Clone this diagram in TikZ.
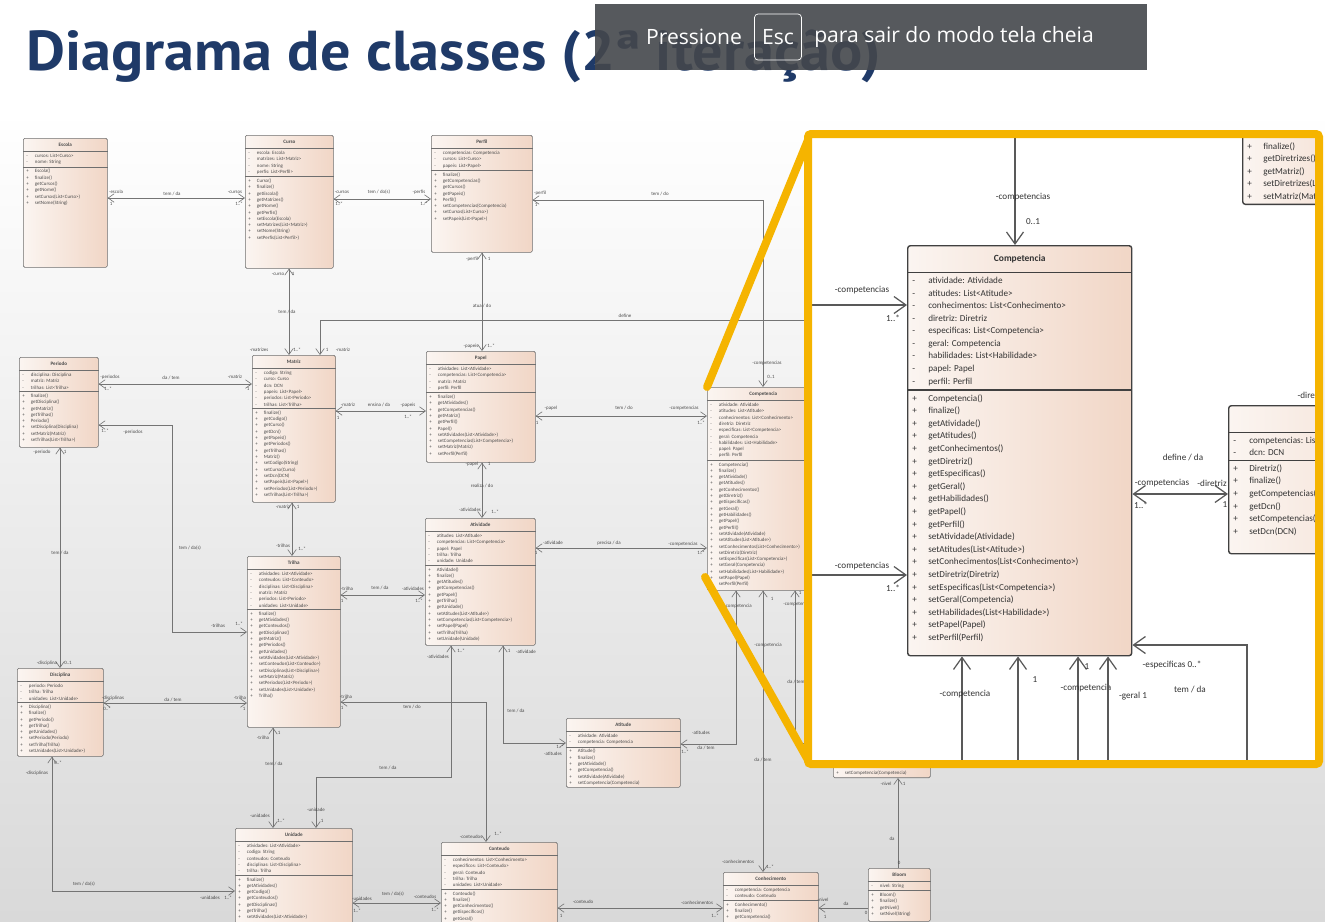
\documentclass[tikz,border=0pt]{standalone}
\usepackage{fontspec}
\setmainfont{Carlito}
\newfontfamily\titlefont{PT Sans}
\newfontfamily\barfont{Open Sans}
\usetikzlibrary{arrows.meta}
\definecolor{TitleNavy}{HTML}{1F3A68}
\definecolor{BarGray}{HTML}{44474C}
\definecolor{ZoomGold}{HTML}{F5B400}
\definecolor{BoxLine}{HTML}{6E6E6E}
\definecolor{BoxLight}{HTML}{FBF5F1}
\definecolor{BoxPeach}{HTML}{F1D6C6}
\definecolor{LineGray}{HTML}{747474}
\definecolor{TextDark}{HTML}{4A4A4A}
\definecolor{BgGray}{HTML}{D9D9D9}

\newcommand{\umlm}{\makebox[1.75em][l]{-}}
\newcommand{\umlp}{\makebox[1.75em][l]{+}}
% class box: name, north west corner, width, height (px), title, attributes, methods
\newcommand{\umlclass}[7]{%
  \node[umlbox, anchor=north west, minimum width=#3*0.02cm, minimum height=#4*0.02cm] (#1) at (#2) {};
  \node[umltitle, anchor=north, minimum width=#3*0.02cm] (#1-t) at (#1.north) {#5};
  \node[umltext, anchor=north west] (#1-a) at (#1-t.south -| #1.west) {#6};
  \node[umltext, anchor=north west] (#1-m) at (#1-a.south -| #1.west) {#7};
  \draw[umlsep] (#1-t.south -| #1.west) -- (#1-t.south -| #1.east);
  \draw[umlsep] (#1-m.north -| #1.west) -- (#1-m.north -| #1.east);
}
\newcommand{\compattrs}{\umlm atividade: Atividade\\ \umlm atitudes: List<Atitude>\\
  \umlm conhecimentos: List<Conhecimento>\\ \umlm diretriz: Diretriz\\
  \umlm especificas: List<Competencia>\\ \umlm geral: Competencia\\
  \umlm habilidades: List<Habilidade>\\ \umlm papel: Papel\\ \umlm perfil: Perfil}
\newcommand{\compmeths}{\umlp Competencia()\\ \umlp finalize()\\ \umlp getAtividade()\\
  \umlp getAtitudes()\\ \umlp getConhecimentos()\\ \umlp getDiretriz()\\
  \umlp getEspecificas()\\ \umlp getGeral()\\ \umlp getHabilidades()\\ \umlp getPapel()\\
  \umlp getPerfil()\\ \umlp setAtividade(Atividade)\\ \umlp setAtitudes(List<Atitude>)\\
  \umlp setConhecimentos(List<Conhecimento>)\\ \umlp setDiretriz(Diretriz)\\
  \umlp setEspecificas(List<Competencia>)\\ \umlp setGeral(Competencia)\\
  \umlp setHabilidades(List<Habilidade>)\\ \umlp setPapel(Papel)\\ \umlp setPerfil(Perfil)}

\begin{document}
\begin{tikzpicture}[x=0.02cm, y=-0.02cm,
    umlbox/.style={draw=BoxLine, line width=0.35pt, rounded corners=0.8pt,
        left color=BoxLight, right color=BoxPeach, inner sep=0pt},
    umltitle/.style={font=\fontsize{2.9}{3.6}\selectfont\bfseries, text=TextDark,
        minimum height=0.26cm, inner sep=0pt},
    umltext/.style={font=\fontsize{2.8}{3.59}\selectfont, text=TextDark, align=left,
        inner xsep=0.06cm, inner ysep=0.04cm},
    umlsep/.style={draw=BoxLine, line width=0.35pt},
    assoc/.style={draw=LineGray, line width=0.35pt, <->,
        >={Straight Barb[length=0.12cm, width=0.17cm]}},
    nav/.style={draw=LineGray, line width=0.35pt, ->,
        >={Straight Barb[length=0.12cm, width=0.17cm]}},
    lbl/.style={font=\fontsize{2.8}{3.2}\selectfont, text=TextDark, inner sep=0pt},
    bigassoc/.style={draw=black!65, line width=0.7pt, <->,
        >={Straight Barb[length=0.24cm, width=0.34cm]}},
    biglbl/.style={font=\fontsize{5.2}{6}\selectfont, text=black!80, inner sep=0pt},
    zoomline/.style={draw=ZoomGold, line width=0.16cm, line cap=round, rounded corners=0.06cm},
]
\useasboundingbox (0,0) rectangle (1325,921);
\clip (0,0) rectangle (1325,921);

% === Background and title ===
\fill[white] (0,0) rectangle (1325,921);
\shade[top color=white, bottom color=BgGray] (0,110) rectangle (1325,921);
\node[font=\titlefont\bfseries\fontsize{32}{36}\selectfont, text=TitleNavy, anchor=west,
    inner sep=0pt] (title) at (26,56) {\scalebox{1.07}[1]{Diagrama de classes (2ª iteração)}};

% =============================================
% CLASSES
% =============================================
\umlclass{escola}{23,138}{84}{129}{Escola}
  {\umlm cursos: List<Curso>\\ \umlm nome: String}
  {\umlp Escola()\\ \umlp finalize()\\ \umlp getCursos()\\ \umlp getNome()\\
   \umlp setCursos(List<Curso>)\\ \umlp setNome(String)}

\umlclass{curso}{245,135}{88}{133}{Curso}
  {\umlm escola: Escola\\ \umlm matrizes: List<Matriz>\\ \umlm nome: String\\ \umlm perfis: List<Perfil>}
  {\umlp Curso()\\ \umlp finalize()\\ \umlp getEscola()\\ \umlp getMatrizes()\\ \umlp getNome()\\
   \umlp getPerfis()\\ \umlp setEscola(Escola)\\ \umlp setMatrizes(List<Matriz>)\\
   \umlp setNome(String)\\ \umlp setPerfis(List<Perfil>)}

\umlclass{perfil}{431,135}{101}{117}{Perfil}
  {\umlm competencias: Competencia\\ \umlm cursos: List<Curso>\\ \umlm papeis: List<Papel>}
  {\umlp finalize()\\ \umlp getCompetencias()\\ \umlp getCursos()\\ \umlp getPapeis()\\
   \umlp Perfil()\\ \umlp setCompetencias(Competencia)\\ \umlp setCursos(List<Curso>)\\
   \umlp setPapeis(List<Papel>)}

\umlclass{periodo}{19,357}{79}{90}{Periodo}
  {\umlm disciplina: Disciplina\\ \umlm matriz: Matriz\\ \umlm trilhas: List<Trilha>}
  {\umlp finalize()\\ \umlp getDisciplina()\\ \umlp getMatriz()\\ \umlp getTrilhas()\\
   \umlp Periodo()\\ \umlp setDisciplina(Disciplina)\\ \umlp setMatriz(Matriz)\\
   \umlp setTrilhas(List<Trilha>)}

\umlclass{matriz}{252,355}{83}{147}{Matriz}
  {\umlm codigo: String\\ \umlm curso: Curso\\ \umlm dcn: DCN\\ \umlm papeis: List<Papel>\\
   \umlm periodos: List<Periodo>\\ \umlm trilhas: List<Trilha>}
  {\umlp finalize()\\ \umlp getCodigo()\\ \umlp getCurso()\\ \umlp getDcn()\\ \umlp getPapeis()\\
   \umlp getPeriodos()\\ \umlp getTrilhas()\\ \umlp Matriz()\\ \umlp setCodigo(String)\\
   \umlp setCurso(Curso)\\ \umlp setDcn(DCN)\\ \umlp setPapeis(List<Papel>)\\
   \umlp setPeriodos(List<Periodo>)\\ \umlp setTrilhas(List<Trilha>)}

\umlclass{papel}{426,351}{109}{111}{Papel}
  {\umlm atividades: List<Atividade>\\ \umlm competencias: List<Competencia>\\
   \umlm matriz: Matriz\\ \umlm perfil: Perfil}
  {\umlp finalize()\\ \umlp getAtividades()\\ \umlp getCompetencias()\\ \umlp getMatriz()\\
   \umlp getPerfil()\\ \umlp Papel()\\ \umlp setAtividades(List<Atividade>)\\
   \umlp setCompetencias(List<Competencia>)\\ \umlp setMatriz(Matriz)\\ \umlp setPerfil(Perfil)}

\umlclass{comp}{707,387}{112}{203}{Competencia}{\compattrs}{\compmeths}

\umlclass{ativ}{425,518}{110}{127}{Atividade}
  {\umlm atitudes: List<Atitude>\\ \umlm competencias: List<Competencia>\\ \umlm papel: Papel\\
   \umlm trilha: Trilha\\ \umlm unidade: Unidade}
  {\umlp Atividade()\\ \umlp finalize()\\ \umlp getAtitudes()\\ \umlp getCompetencias()\\
   \umlp getPapel()\\ \umlp getTrilha()\\ \umlp getUnidade()\\ \umlp setAtitudes(List<Atitude>)\\
   \umlp setCompetencias(List<Competencia>)\\ \umlp setPapel(Papel)\\ \umlp setTrilha(Trilha)\\
   \umlp setUnidade(Unidade)}

\umlclass{trilha}{247,556}{93}{171}{Trilha}
  {\umlm atividades: List<Atividade>\\ \umlm conteudos: List<Conteudo>\\
   \umlm disciplinas: List<Disciplina>\\ \umlm matriz: Matriz\\ \umlm periodos: List<Periodo>\\
   \umlm unidades: List<Unidade>}
  {\umlp finalize()\\ \umlp getAtividades()\\ \umlp getConteudos()\\ \umlp getDisciplinas()\\
   \umlp getMatriz()\\ \umlp getPeriodos()\\ \umlp getUnidades()\\
   \umlp setAtividades(List<Atividade>)\\ \umlp setConteudos(List<Conteudo>)\\
   \umlp setDisciplinas(List<Disciplina>)\\ \umlp setMatriz(Matriz)\\
   \umlp setPeriodos(List<Periodo>)\\ \umlp setUnidades(List<Unidade>)\\ \umlp Trilha()}

\umlclass{disc}{17,668}{86}{88}{Disciplina}
  {\umlm periodo: Periodo\\ \umlm trilha: Trilha\\ \umlm unidades: List<Unidade>}
  {\umlp Disciplina()\\ \umlp finalize()\\ \umlp getPeriodo()\\ \umlp getTrilha()\\
   \umlp getUnidades()\\ \umlp setPeriodo(Periodo)\\ \umlp setTrilha(Trilha)\\
   \umlp setUnidades(List<Unidade>)}

\umlclass{atit}{566,718}{114}{69}{Atitude}
  {\umlm atividade: Atividade\\ \umlm competencia: Competencia}
  {\umlp Atitude()\\ \umlp finalize()\\ \umlp getAtividade()\\ \umlp getCompetencia()\\
   \umlp setAtividade(Atividade)\\ \umlp setCompetencia(Competencia)}

\umlclass{unid}{235,828}{117}{110}{Unidade}
  {\umlm atividades: List<Atividade>\\ \umlm codigo: String\\ \umlm conteudos: Conteudo\\
   \umlm disciplinas: List<Disciplina>\\ \umlm trilha: Trilha}
  {\umlp finalize()\\ \umlp getAtividades()\\ \umlp getCodigo()\\ \umlp getConteudos()\\
   \umlp getDisciplinas()\\ \umlp getTrilha()\\ \umlp setAtividades(List<Atividade>)}

\umlclass{cont}{441,842}{116}{100}{Conteudo}
  {\umlm conhecimentos: List<Conhecimento>\\ \umlm especificos: List<Conteudo>\\
   \umlm geral: Conteudo\\ \umlm trilha: Trilha\\ \umlm unidades: List<Unidade>}
  {\umlp Conteudo()\\ \umlp finalize()\\ \umlp getConhecimentos()\\ \umlp getEspecificos()\\
   \umlp getGeral()}

\umlclass{conh}{723,872}{95}{70}{Conhecimento}
  {\umlm competencia: Competencia\\ \umlm conteudo: Conteudo}
  {\umlp Conhecimento()\\ \umlp finalize()\\ \umlp getCompetencia()}

\umlclass{bloom}{868,868}{62}{53}{Bloom}
  {\umlm nivel: String}
  {\umlp Bloom()\\ \umlp finalize()\\ \umlp getNivel()\\ \umlp setNivel(String)}

% Habilidade, mostly under the zoom frame
\node[umlbox, anchor=south west, minimum width=97*0.02cm, minimum height=98*0.02cm] (hab) at (833,778) {};
\node[umltext, anchor=south west] (hab-m) at (hab.south west) {\umlp setCompetencia(Competencia)};

% =============================================
% ASSOCIATIONS
% =============================================
\coordinate (dcnhid) at (840,320);

\draw[assoc] (escola.east |- 0,198) -- (curso.west |- 0,198)
    node[lbl] at (116,192) {-escola} node[lbl] at (111,204) {1}
    node[lbl] at (172,194) {tem / da}
    node[lbl] at (235,192) {-cursos} node[lbl] at (239,204) {1..*};
\draw[assoc] (curso.east |- 0,199) -- (perfil.west |- 0,199)
    node[lbl] at (342,192) {-cursos} node[lbl] at (339,204) {1..*}
    node[lbl] at (379,192) {tem / do(s)}
    node[lbl] at (419,192) {-perfis} node[lbl] at (424,204) {1..*};
\draw[assoc] (perfil.east |- 0,200) -| (comp.north -| 763,0)
    node[lbl] at (540,193) {-perfil} node[lbl] at (536,205) {1}
    node[lbl] at (660,194) {tem / do}
    node[lbl] at (767,363) {-competencias} node[lbl] at (771,377) {0..1};
\draw[assoc] (curso.south -| 289,0) -- (matriz.north -| 289,0)
    node[lbl] at (278,274) {-curso} node[lbl] at (293,274) {1}
    node[lbl] at (287,312) {tem / da}
    node[lbl] at (259,350) {-matrizes} node[lbl] at (297,350) {1..*};
\draw[assoc] (matriz.north -| 320,0) |- (dcnhid)
    node[lbl] at (327,350) {1} node[lbl] at (343,350) {-matriz}
    node[lbl] at (625,316) {define};
\draw[assoc] (periodo.east |- 0,384) -- (matriz.west |- 0,384)
    node[lbl] at (110,377) {-periodos} node[lbl] at (108,389) {1..*}
    node[lbl] at (171,378) {da / tem}
    node[lbl] at (235,377) {-matriz} node[lbl] at (248,389) {1};
\draw[assoc] (matriz.east |- 0,411) -- (papel.west |- 0,411)
    node[lbl] at (348,405) {-matriz} node[lbl] at (338,418) {1}
    node[lbl] at (379,405) {ensina / da}
    node[lbl] at (408,405) {-papeis} node[lbl] at (408,417) {1..*};
\draw[assoc] (matriz.south -| 292,0) -- (trilha.north -| 292,0)
    node[lbl] at (283,507) {-matriz} node[lbl] at (298,507) {1}
    node[lbl] at (283,546) {-trilhas} node[lbl] at (302,549) {1..*};
\draw[assoc] (perfil.south -| 482,0) -- (papel.north -| 482,0)
    node[lbl] at (472,259) {-perfil} node[lbl] at (489,259) {1}
    node[lbl] at (482,306) {atua / do}
    node[lbl] at (471,346) {-papeis} node[lbl] at (491,346) {1..*};
\draw[assoc] (papel.east |- 0,416) -- (comp.west |- 0,416)
    node[lbl] at (551,408) {-papel} node[lbl] at (537,423) {1}
    node[lbl] at (624,408) {tem / do}
    node[lbl] at (684,408) {-competencias} node[lbl] at (701,423) {1..*};
\draw[assoc] (papel.south -| 482,0) -- (ativ.north -| 482,0)
    node[lbl] at (472,464) {-papel} node[lbl] at (489,464) {1}
    node[lbl] at (482,486) {realiza / do}
    node[lbl] at (470,510) {-atividades} node[lbl] at (495,512) {1..*};
\draw[assoc] (ativ.east |- 0,548) -- (comp.west |- 0,548)
    node[lbl] at (553,543) {-atividade} node[lbl] at (536,553) {1}
    node[lbl] at (609,543) {precisa / da}
    node[lbl] at (683,544) {-competencias} node[lbl] at (701,553) {1..*};
\draw[assoc] (trilha.east |- 0,595) -- (ativ.west |- 0,595)
    node[lbl] at (347,589) {-trilha} node[lbl] at (342,601) {1}
    node[lbl] at (380,588) {tem / da}
    node[lbl] at (413,589) {-atividades} node[lbl] at (419,601) {1..*};
\draw[assoc] (periodo.east |- 0,425) -- (172,425) |- (trilha.west |- 0,632)
    node[lbl] at (105,431) {1..*} node[lbl] at (133,432) {-periodos}
    node[lbl] at (190,548) {tem / da(s)}
    node[lbl] at (218,626) {-trilhas} node[lbl] at (239,624) {1..*};
\draw[assoc] (periodo.south -| 60,0) -- (disc.north -| 60,0)
    node[lbl] at (42,452) {-periodo} node[lbl] at (65,452) {1}
    node[lbl] at (60,553) {tem / da}
    node[lbl] at (47,663) {-disciplina} node[lbl] at (68,663) {0..1};
\draw[assoc] (disc.east |- 0,703) -- (trilha.west |- 0,703)
    node[lbl] at (113,698) {-disciplinas} node[lbl] at (107,709) {0..*}
    node[lbl] at (173,700) {da / tem}
    node[lbl] at (240,698) {-trilha} node[lbl] at (244,709) {1};
\draw[assoc] (disc.south -| 52,0) |- (unid.west |- 0,891)
    node[lbl] at (37,773) {-disciplinas} node[lbl] at (58,763) {0..*}
    node[lbl] at (84,884) {tem / da(s)}
    node[lbl] at (210,898) {-unidades} node[lbl] at (228,898) {1..*};
\draw[assoc] (trilha.south -| 273,0) -- (unid.north -| 273,0)
    node[lbl] at (263,738) {-trilha} node[lbl] at (279,733) {1}
    node[lbl] at (274,764) {tem / da}
    node[lbl] at (260,816) {-unidades} node[lbl] at (281,821) {1..*};
\draw[assoc] (ativ.south -| 451,0) |- (316,777) -- (unid.north -| 316,0)
    node[lbl] at (438,657) {-atividades} node[lbl] at (461,651) {1..*}
    node[lbl] at (388,768) {tem / da}
    node[lbl] at (316,810) {-unidade} node[lbl] at (322,821) {1};
\draw[assoc] (ativ.south -| 503,0) |- (atit.west |- 0,743)
    node[lbl] at (509,651) {1} node[lbl] at (526,652) {-atividade}
    node[lbl] at (516,711) {tem / da}
    node[lbl] at (560,747) {1..*} node[lbl] at (553,754) {-atitudes};
\draw[assoc] (trilha.east |- 0,702) -| (cont.north -| 486,0)
    node[lbl] at (346,697) {-trilha} node[lbl] at (342,708) {1}
    node[lbl] at (412,707) {tem / do}
    node[lbl] at (471,837) {-conteudos} node[lbl] at (498,834) {1..*};
\draw[assoc] (unid.east |- 0,903) -- (cont.west |- 0,903)
    node[lbl] at (362,899) {-unidades} node[lbl] at (357,911) {1..*}
    node[lbl] at (393,894) {tem / da(s)}
    node[lbl] at (425,897) {-conteudos} node[lbl] at (435,910) {1..*};
\draw[assoc] (cont.east |- 0,908) -- (conh.west |- 0,908)
    node[lbl] at (583,902) {-conteudo} node[lbl] at (561,916) {1}
    node[lbl] at (697,903) {-conhecimentos} node[lbl] at (715,916) {1..*};
\draw[assoc] (comp.south -| 763,0) -- (conh.north -| 763,0)
    node[lbl] at (772,599) {1} node[lbl] at (768,645) {-competencia}
    node[lbl] at (763,760) {da / tem}
    node[lbl] at (738,862) {-conhecimentos} node[lbl] at (770,867) {1..*};
\draw[assoc] (comp.south -| 736,0) |- (atit.east |- 0,744)
    node[lbl] at (738,606) {-competencia}
    node[lbl] at (701,733) {-atitudes} node[lbl] at (706,748) {da / tem}
    node[lbl] at (685,752) {1..*};
\draw[assoc] (comp.south -| 795,0) |- (hab.west |- 0,743)
    node[lbl] at (800,593) {1} node[lbl] at (797,604) {-competencia}
    node[lbl] at (796,682) {da / tem};
\draw[nav] (bloom.north -| 898,0) -- (hab.south -| 898,0)
    node[lbl] at (899,863) {0} node[lbl] at (892,839) {da}
    node[lbl] at (886,784) {-nivel} node[lbl] at (904,784) {1};
\draw[nav] (bloom.west |- 0,908) -- (conh.east |- 0,908)
    node[lbl] at (866,913) {0} node[lbl] at (846,904) {da}
    node[lbl] at (823,900) {-nivel} node[lbl] at (825,917) {1};

% =============================================
% ZOOMED VIEW
% =============================================
\fill[white] (808,134) rectangle (1319,764);
\begin{scope}[
    umlbox/.style={draw=black!75, line width=0.8pt, rounded corners=1.5pt,
        left color=BoxLight, right color=BoxPeach, inner sep=0pt},
    umltitle/.style={font=\fontsize{5.4}{7.2}\selectfont\bfseries, text=black!80,
        minimum height=0.54cm, inner sep=0pt},
    umltext/.style={font=\fontsize{5.2}{7.17}\selectfont, text=black!80, align=left,
        inner xsep=0.1cm, inner ysep=0.08cm},
    umlsep/.style={draw=black!75, line width=0.8pt},
]
\clip (812,138) rectangle (1315,760);

\umlclass{bigcomp}{907,245}{224}{410}{Competencia}{\compattrs}{\compmeths}

\umlclass{bigdir}{1228,405}{240}{148}{Diretriz}
  {\umlm competencias: List<Competencia>\\ \umlm dcn: DCN}
  {\umlp Diretriz()\\ \umlp finalize()\\ \umlp getCompetencias()\\ \umlp getDcn()\\
   \umlp setCompetencias(List<Competencia>)\\ \umlp setDcn(DCN)}

\node[umlbox, anchor=south west, minimum width=3cm, minimum height=3cm] (bigdcn) at (1242,205) {};
\node[umltext, anchor=south west] (bigdcn-m) at (bigdcn.south west)
  {\umlp finalize()\\ \umlp getDiretrizes()\\ \umlp getMatriz()\\
   \umlp setDiretrizes(List<Diretriz>)\\ \umlp setMatriz(Matriz)};

\coordinate (bctop) at (1015,100);
\coordinate (bcleft1) at (780,305);
\coordinate (bcleft2) at (780,575);
\coordinate (bcbot1) at (962,800);
\coordinate (bcbot2) at (1018,800);
\coordinate (bcbot3) at (1078,800);

\draw[bigassoc] (bctop) -- (bigcomp.north -| 1015,0)
    node[biglbl] at (1023,197) {-competencias} node[biglbl] at (1033,222) {0..1};
\draw[bigassoc] (bcleft1) -- (bigcomp.west |- 0,305)
    node[biglbl] at (862,290) {-competencias} node[biglbl] at (893,318) {1..*};
\draw[bigassoc] (bcleft2) -- (bigcomp.west |- 0,575)
    node[biglbl] at (862,566) {-competencias} node[biglbl] at (893,588) {1..*};
\draw[bigassoc] (bigcomp.south -| 962,0) -- (bcbot1)
    node[biglbl] at (965,694) {-competencia};
\draw[bigassoc] (bigcomp.south -| 1018,0) -- (bcbot2)
    node[biglbl] at (1035,680) {1};
\draw[bigassoc] (bigcomp.south -| 1078,0) -- (bcbot3)
    node[biglbl] at (1087,667) {1} node[biglbl] at (1086,688) {-competencia};
\draw[bigassoc] (bigcomp.south -| 1108,0) -- (1108,800) -- (1247,800) |- (bigcomp.east |- 0,645)
    node[biglbl] at (1133,696) {-geral 1}
    node[biglbl] at (1172,665) {-especificas 0..*}
    node[biglbl] at (1190,690) {tem / da};
\draw[bigassoc] (bigcomp.east |- 0,494) -- (bigdir.west |- 0,494)
    node[biglbl] at (1162,483) {-competencias} node[biglbl] at (1141,505) {1..*}
    node[biglbl] at (1183,458) {define / da}
    node[biglbl] at (1212,483) {-diretriz} node[biglbl] at (1225,505) {1};
\draw[bigassoc] (bigdcn.south -| 1350,0) -- (bigdir.north -| 1350,0)
    node[biglbl, anchor=west] at (1297,395) {-diretrizes};
\end{scope}

% zoom frame and its guide lines
\draw[zoomline] (808,134) rectangle (1319,764);
\draw[zoomline] (707,387) -- (808,140);
\draw[zoomline] (705,577) -- (808,760);

% =============================================
% FULL SCREEN BAR
% =============================================
\node[fill=BarGray, fill opacity=0.9, minimum width=552*0.02cm, minimum height=66*0.02cm,
    inner sep=0pt] (escbar) at (871,37) {};
\node[font=\barfont\fontsize{12}{14}\selectfont, text=white] (escpress) at (694,37) {Pressione};
\node[draw=white!85, rounded corners=2pt, minimum width=47*0.02cm, minimum height=46*0.02cm,
    font=\barfont\fontsize{12}{14}\selectfont, text=white, inner sep=0pt] (esckey) at (778,37) {Esc};
\node[font=\barfont\fontsize{12}{14}\selectfont, text=white] (escrest) at (954,37)
    {para sair do modo tela cheia};

\end{tikzpicture}
\end{document}
